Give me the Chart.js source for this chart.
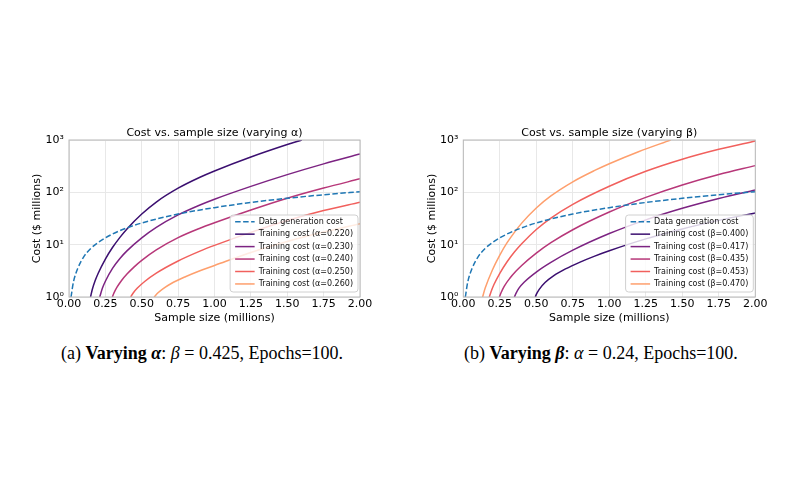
<!DOCTYPE html>
<html>
<head>
<meta charset="utf-8">
<script src="https://cdn.jsdelivr.net/npm/chart.js@4.4.1/dist/chart.umd.min.js"></script>
<style>
  body { margin: 0; width: 800px; height: 480px; background: #fff; position: relative; overflow: hidden; }
  canvas { position: absolute; top: 110px; }
  #chartA { left: 0; }
  #chartB { left: 400px; }
  .cap { position: absolute; top: 343px; font-family: "Liberation Serif", serif; font-size: 18px; color: #000; white-space: nowrap; }
  .cap i { font-style: italic; }
</style>
</head>
<body>
<canvas id="chartA" width="400" height="230"></canvas>
<canvas id="chartB" width="400" height="230"></canvas>
<div class="cap" style="left:61px">(a) <b>Varying <i>α</i></b>: <i>β</i> = 0.425, Epochs=100.</div>
<div class="cap" style="left:464px">(b) <b>Varying <i>β</i></b>: <i>α</i> = 0.24, Epochs=100.</div>
<script>
// axis ticks
const xTicks = [0, 0.25, 0.5, 0.75, 1, 1.25, 1.5, 1.75, 2];
const xTickLabels = ['0.00', '0.25', '0.50', '0.75', '1.00', '1.25', '1.50', '1.75', '2.00'];
const yTicks = [1, 10, 100, 1000];
const yTickLabels = ['10\u2070', '10\u00b9', '10\u00b2', '10\u00b3'];

// data generation cost (same in both panels)
const genSize = [0.014, 0.03, 0.06, 0.1, 0.15, 0.2, 0.3, 0.4, 0.5, 0.75, 1.0, 1.25, 1.5, 1.75, 2.0];
const genCost = [1.0, 1.9, 3.5, 5.8, 8.5, 11, 16, 21, 26, 38.5, 51, 64, 77, 90, 103];

// panel (a): varying alpha
const alphaLabels = ['0.220', '0.230', '0.240', '0.250', '0.260'];
const a220Size = [0.148, 0.16, 0.18, 0.2, 0.25, 0.3, 0.35, 0.4, 0.5, 0.6, 0.75, 0.9, 1.0, 1.25, 1.5, 1.6];
const a220Cost = [1.0, 1.39, 2.06, 2.82, 5.31, 8.91, 13.8, 20.2, 38.5, 65.3, 120, 194, 256, 473, 818, 1000];
const a230Size = [0.211, 0.23, 0.25, 0.3, 0.35, 0.4, 0.5, 0.6, 0.75, 0.9, 1.0, 1.25, 1.5, 1.75, 2.0];
const a230Cost = [1.0, 1.48, 2.0, 3.56, 5.45, 7.69, 13.5, 21.4, 37.0, 57.3, 73.9, 130, 218, 350, 541];
const a240Size = [0.298, 0.31, 0.33, 0.36, 0.4, 0.45, 0.5, 0.6, 0.75, 0.9, 1.0, 1.25, 1.5, 1.75, 2.0];
const a240Cost = [1.0, 1.21, 1.54, 2.05, 2.77, 3.81, 5.02, 7.95, 13.6, 20.6, 26.2, 46.0, 77.3, 121, 181];
const a250Size = [0.424, 0.44, 0.47, 0.52, 0.6, 0.75, 0.9, 1.0, 1.25, 1.5, 1.75, 2.0];
const a250Cost = [1.0, 1.18, 1.48, 1.98, 2.86, 4.88, 7.52, 9.68, 17.2, 28.9, 44.8, 64.7];
const a260Size = [0.585, 0.61, 0.65, 0.7, 0.8, 0.9, 1.0, 1.25, 1.5, 1.75, 2.0];
const a260Cost = [1.0, 1.19, 1.46, 1.79, 2.44, 3.18, 4.0, 7.1, 11.5, 17.4, 25.1];

// panel (b): varying beta
const betaLabels = ['0.400', '0.417', '0.435', '0.453', '0.470'];
const b400Size = [0.493, 0.5, 0.52, 0.56, 0.62, 0.7, 0.8, 0.9, 1.0, 1.25, 1.5, 1.75, 2.0];
const b400Cost = [1.0, 1.12, 1.4, 1.89, 2.56, 3.44, 4.65, 6.05, 7.66, 12.9, 20.0, 29.1, 40.4];
const b417Size = [0.35, 0.36, 0.38, 0.42, 0.5, 0.6, 0.75, 1.0, 1.25, 1.5, 1.75, 2.0];
const b417Cost = [1.0, 1.16, 1.46, 1.96, 3.0, 4.59, 7.84, 16.3, 29.8, 49.5, 76.2, 111];
const b435Size = [0.247, 0.26, 0.28, 0.32, 0.36, 0.4, 0.5, 0.6, 0.75, 1.0, 1.25, 1.5, 1.75, 2.0];
const b435Cost = [1.0, 1.23, 1.6, 2.31, 3.1, 4.01, 6.89, 10.9, 19.3, 42.0, 80, 138, 219, 324];
const b453Size = [0.178, 0.19, 0.21, 0.25, 0.3, 0.35, 0.4, 0.5, 0.6, 0.75, 1.0, 1.25, 1.5, 1.75, 2.0];
const b453Cost = [1.0, 1.26, 1.73, 2.84, 4.72, 7.23, 10.4, 19.5, 32.3, 59.1, 131, 252, 428, 663, 958];
const b470Size = [0.132, 0.15, 0.2, 0.25, 0.3, 0.35, 0.4, 0.5, 0.6, 0.75, 0.9, 1.0, 1.2, 1.42];
const b470Cost = [1.0, 1.48, 3.32, 6.32, 10.9, 17.2, 25.8, 50.2, 85.3, 159, 262, 352, 598, 1000];

const curveColors = ['#3b0f70', '#7c2382', '#b73779', '#f1605d', '#fe9f6d'];
const FONT = 'DejaVu Sans';

function pts(xs, ys) {
    return xs.map((x, i) => ({ x: x, y: ys[i] }));
}

function series(label, xs, ys, color, dash) {
    return {
        label: label,
        data: pts(xs, ys),
        borderColor: color,
        backgroundColor: color,
        borderWidth: 1.5,
        borderDash: dash || [],
        pointRadius: 0,
        fill: false,
        cubicInterpolationMode: 'monotone'
    };
}

// frame, title and legend drawn on top of the plot area
const framePlugin = {
    id: 'frame',
    afterDatasetsDraw(chart) {
        const ctx = chart.ctx, a = chart.chartArea;
        ctx.save();
        ctx.strokeStyle = '#b8b8b8';
        ctx.lineWidth = 1;
        ctx.strokeRect(a.left, a.top, a.right - a.left, a.bottom - a.top);

        ctx.fillStyle = '#000';
        ctx.font = '11px "' + FONT + '"';
        ctx.textAlign = 'center';
        ctx.textBaseline = 'middle';
        ctx.fillText(chart.options.plugins.frame.title, (a.left + a.right) / 2, a.top - 7);

        // legend
        const sets = chart.data.datasets;
        ctx.font = '8px "' + FONT + '"';
        let tw = 0;
        sets.forEach(d => { tw = Math.max(tw, ctx.measureText(d.label).width); });
        const w = 5 + 19.5 + 4 + tw + 5, h = 77;
        const lx = a.right - 2 - w, ly = a.bottom - 5 - h;
        ctx.beginPath();
        ctx.roundRect(lx, ly, w, h, 3);
        ctx.fillStyle = 'rgba(255,255,255,0.8)';
        ctx.fill();
        ctx.strokeStyle = '#d0d0d0';
        ctx.stroke();
        ctx.textAlign = 'left';
        sets.forEach((d, i) => {
            const cy = ly + 6.7 + i * 12.45;
            ctx.beginPath();
            ctx.setLineDash(d.borderDash);
            ctx.strokeStyle = d.borderColor;
            ctx.lineWidth = 1.5;
            ctx.moveTo(lx + 5, cy);
            ctx.lineTo(lx + 24.5, cy);
            ctx.stroke();
            ctx.setLineDash([]);
            ctx.fillStyle = '#111';
            ctx.fillText(d.label, lx + 28.5, cy);
        });
        ctx.restore();
    }
};

function makeChart(id, title, datasets, padLeft, padRight) {
    const tickFont = { family: FONT, size: 11 };
    return new Chart(document.getElementById(id), {
        type: 'line',
        data: { datasets: datasets },
        options: {
            responsive: false,
            animation: false,
            devicePixelRatio: 1,
            layout: { padding: { left: padLeft, right: padRight, top: 30, bottom: 13 } },
            plugins: { legend: { display: false }, tooltip: { enabled: false }, frame: { title: title } },
            scales: {
                x: {
                    type: 'linear', min: 0, max: 2,
                    afterBuildTicks: s => { s.ticks = xTicks.map(v => ({ value: v })); },
                    afterFit: s => { s.height = 30; },
                    ticks: { callback: (v, i) => xTickLabels[i], font: tickFont, color: '#000', padding: 1, maxRotation: 0, autoSkip: false },
                    grid: { color: '#e8e8e8', drawTicks: false },
                    border: { display: false },
                    title: { display: true, text: 'Sample size (millions)', font: tickFont, color: '#000', padding: { top: 0, bottom: 2 } }
                },
                y: {
                    type: 'logarithmic', min: 1, max: 1000,
                    afterBuildTicks: s => { s.ticks = yTicks.map(v => ({ value: v })); },
                    afterFit: s => { s.width = 40; },
                    ticks: { callback: (v, i) => yTickLabels[i], font: tickFont, color: '#000', padding: 5 },
                    grid: { color: '#e8e8e8', drawTicks: false },
                    border: { display: false },
                    title: { display: true, text: 'Cost ($ millions)', font: tickFont, color: '#000', padding: { top: 2, bottom: 0 } }
                }
            }
        },
        plugins: [framePlugin]
    });
}

const dashBlue = '#1f77b4';

makeChart('chartA', 'Cost vs. sample size (varying \u03b1)', [
    series('Data generation cost', genSize, genCost, dashBlue, [5.5, 2.5]),
    series('Training cost (\u03b1=' + alphaLabels[0] + ')', a220Size, a220Cost, curveColors[0]),
    series('Training cost (\u03b1=' + alphaLabels[1] + ')', a230Size, a230Cost, curveColors[1]),
    series('Training cost (\u03b1=' + alphaLabels[2] + ')', a240Size, a240Cost, curveColors[2]),
    series('Training cost (\u03b1=' + alphaLabels[3] + ')', a250Size, a250Cost, curveColors[3]),
    series('Training cost (\u03b1=' + alphaLabels[4] + ')', a260Size, a260Cost, curveColors[4])
], 29, 40);

makeChart('chartB', 'Cost vs. sample size (varying \u03b2)', [
    series('Data generation cost', genSize, genCost, dashBlue, [5.5, 2.5]),
    series('Training cost (\u03b2=' + betaLabels[0] + ')', b400Size, b400Cost, curveColors[0]),
    series('Training cost (\u03b2=' + betaLabels[1] + ')', b417Size, b417Cost, curveColors[1]),
    series('Training cost (\u03b2=' + betaLabels[2] + ')', b435Size, b435Cost, curveColors[2]),
    series('Training cost (\u03b2=' + betaLabels[3] + ')', b453Size, b453Cost, curveColors[3]),
    series('Training cost (\u03b2=' + betaLabels[4] + ')', b470Size, b470Cost, curveColors[4])
], 23.3, 44.7);
</script>
</body>
</html>
